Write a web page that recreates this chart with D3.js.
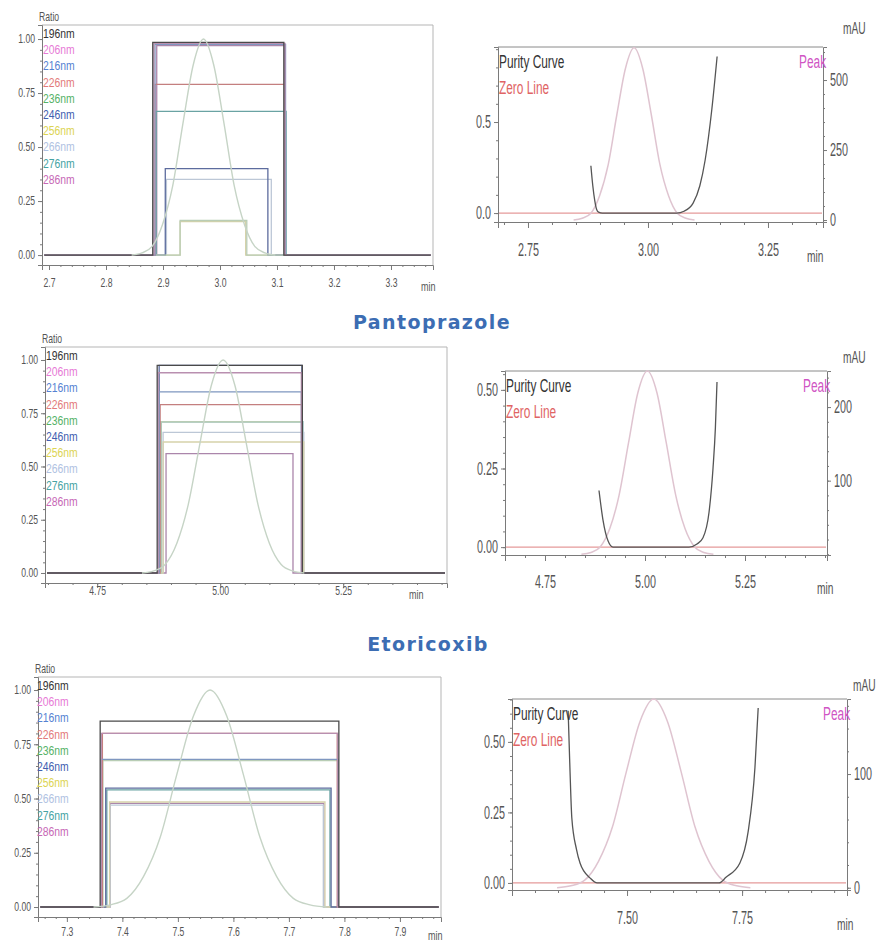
<!DOCTYPE html>
<html>
<head>
<meta charset="utf-8">
<script src="https://cdn.jsdelivr.net/npm/d3@7"></script>
<style>
  body { margin: 0; background: #fff; }
  svg { display: block; }
</style>
</head>
<body>
<div id="chart"></div>
<script>
// legend of the ratio plots (same 10 wavelengths in all three)
const wavelengths = ["196nm", "206nm", "216nm", "226nm", "236nm", "246nm", "256nm", "266nm", "276nm", "286nm"];

// ratio plateau level, start and end time (min) for each wavelength
const ratio1 = [0.985, 0.98, 0.975, 0.79, 0.16, 0.40, 0.155, 0.35, 0.665, 0.97];
const start1 = [2.882, 2.884, 2.886, 2.886, 2.930, 2.904, 2.930, 2.906, 2.888, 2.889];
const end1 = [3.112, 3.114, 3.115, 3.114, 3.047, 3.084, 3.045, 3.090, 3.116, 3.113];

const ratio2 = [0.975, 0.94, 0.85, 0.79, 0.71, 0.975, 0.615, 0.66, 0.71, 0.56];
const start2 = [4.872, 4.874, 4.876, 4.878, 4.880, 4.876, 4.884, 4.884, 4.880, 4.890];
const end2 = [5.167, 5.165, 5.165, 5.166, 5.166, 5.166, 5.170, 5.170, 5.168, 5.148];

const ratio3 = [0.857, 0.80, 0.68, 0.80, 0.675, 0.548, 0.484, 0.47, 0.54, 0.478];
const start3 = [7.360, 7.362, 7.362, 7.364, 7.365, 7.370, 7.377, 7.378, 7.372, 7.378];
const end3 = [7.790, 7.788, 7.789, 7.787, 7.788, 7.776, 7.765, 7.762, 7.774, 7.763];

// peak profile, [time, fraction of peak max]
const peak1 = [[2.845, 0], [2.863, 0.01], [2.881, 0.04], [2.899, 0.14], [2.917, 0.32], [2.935, 0.61], [2.953, 0.88], [2.971, 1],
  [2.989, 0.88], [3.007, 0.61], [3.025, 0.32], [3.043, 0.14], [3.061, 0.04], [3.079, 0.01], [3.097, 0]];
const peak2 = [[4.841, 0], [4.865, 0.01], [4.888, 0.04], [4.912, 0.14], [4.935, 0.32], [4.959, 0.61], [4.982, 0.88], [5.006, 1],
  [5.030, 0.88], [5.053, 0.61], [5.077, 0.32], [5.100, 0.14], [5.124, 0.04], [5.147, 0.01], [5.171, 0]];
const peak3 = [[7.348, 0], [7.378, 0.01], [7.408, 0.04], [7.438, 0.14], [7.468, 0.32], [7.498, 0.61], [7.528, 0.88], [7.558, 1],
  [7.588, 0.88], [7.618, 0.61], [7.648, 0.32], [7.678, 0.14], [7.708, 0.04], [7.738, 0.01], [7.768, 0]];
// peak height in mAU (right axis of purity plots)
const peakMax = [615, 249, 166];

// purity curves, [time, purity]
const purity1 = [[2.881, 0.26], [2.885, 0.15], [2.889, 0.07], [2.893, 0.02], [2.897, 0.005], [2.905, 0], [3.06, 0],
  [3.075, 0.01], [3.094, 0.055], [3.108, 0.15], [3.119, 0.29], [3.133, 0.57], [3.144, 0.86]];
const purity2 = [[4.885, 0.18], [4.895, 0.086], [4.9075, 0.02], [4.92, 0], [5.11, 0], [5.13, 0.01], [5.145, 0.03],
  [5.16, 0.11], [5.17, 0.25], [5.176, 0.38], [5.18, 0.525]];
const purity3 = [[7.372, 0.61], [7.376, 0.4], [7.38, 0.23], [7.39, 0.12], [7.398, 0.07], [7.42, 0.017], [7.435, 0],
  [7.70, 0], [7.715, 0.02], [7.745, 0.07], [7.763, 0.18], [7.778, 0.41], [7.785, 0.62]];

// tick labels
const ratioTicks = [0, 0.25, 0.5, 0.75, 1];
const xTicks1 = [2.7, 2.8, 2.9, 3.0, 3.1, 3.2, 3.3];
const xTicks2 = [4.75, 5.00, 5.25];
const xTicks3 = [7.3, 7.4, 7.5, 7.6, 7.7, 7.8, 7.9];
const pxTicks1 = [2.75, 3.00, 3.25];
const pxTicks2 = [4.75, 5.00, 5.25];
const pxTicks3 = [7.50, 7.75];
const pyTicks1 = [0, 0.5];
const pyTicks2 = [0, 0.25, 0.5];
const pyTicks3 = [0, 0.25, 0.5];
const mauTicks1 = [0, 250, 500];
const mauTicks2 = [100, 200];
const mauTicks3 = [0, 100];

const titles = ["Pantoprazole", "Etoricoxib"];

// colours
const traceColors = ["#4a4a4a", "#b98fb0", "#7f97c0", "#c47f7f", "#b9cdb5", "#5d6c9e", "#d6d2aa", "#bcc7d6", "#6aa3a3", "#ab86ab"];
const legendColors = ["#333333", "#e77ad6", "#5582d2", "#e37a7a", "#55b266", "#4260b0", "#dcd452", "#b0c2e2", "#45a3a3", "#c768b6"];
const axisColor = "#7a7a7a";
const textColor = "#555";
const narrow = "Liberation Sans, Arial, sans-serif";

const svg = d3.select("#chart")
  .append("svg")
  .attr("width", 879)
  .attr("height", 943);

svg.append("rect").attr("width", 879).attr("height", 943).attr("fill", "#fff");

// squeeze text horizontally (the scan uses a very narrow font)
function squeeze(sel, s) {
  sel.each(function () {
    const t = d3.select(this);
    const x = +t.attr("x") || 0;
    t.attr("x", x / s).attr("transform", `scale(${s},1)`);
  });
}

function stepTicks(a, b, step) {
  return d3.range(Math.ceil(a / step) * step, b, step);
}

function styleAxis(g, size) {
  g.attr("font-family", narrow).attr("font-size", size);
  g.selectAll(".domain").attr("stroke", axisColor);
  g.selectAll(".tick line").attr("stroke", axisColor);
  g.selectAll(".tick text").attr("fill", textColor);
}

// ----- left: ratio plots -----
const leftPanels = [
  { left: 42, right: 433, top: 25, bottom: 265, x0: 2.6877, x1: 3.3737, y0: -0.046, y1: 1.065,
    xticks: xTicks1, xfmt: ".1f", minor: 0.02, ratio: ratio1, start: start1, end: end1, peak: peak1,
    labelY: 291, minX: 421, legendX: 43 },
  { left: 45, right: 447, top: 347, bottom: 583, x0: 4.644, x1: 5.461, y0: -0.047, y1: 1.061,
    xticks: xTicks2, xfmt: ".2f", minor: 0.05, ratio: ratio2, start: start2, end: end2, peak: peak2,
    labelY: 599, minX: 409, legendX: 46 },
  { left: 38, right: 441, top: 677, bottom: 917, x0: 7.248, x1: 7.974, y0: -0.046, y1: 1.06,
    xticks: xTicks3, xfmt: ".1f", minor: 0.02, ratio: ratio3, start: start3, end: end3, peak: peak3,
    labelY: 940, minX: 428, legendX: 37 }
];

leftPanels.forEach(p => {
  const x = d3.scaleLinear().domain([p.x0, p.x1]).range([p.left, p.right]);
  const y = d3.scaleLinear().domain([p.y0, p.y1]).range([p.bottom, p.top]);
  const g = svg.append("g");

  // frame (top + right lighter)
  g.append("path")
    .attr("d", `M${p.left},${p.top}H${p.right}V${p.bottom}`)
    .attr("fill", "none").attr("stroke", "#b5b5b5");

  const xa = g.append("g").attr("transform", `translate(0,${p.bottom})`)
    .call(d3.axisBottom(x).tickValues(p.xticks).tickSize(5).tickFormat(d3.format(p.xfmt)));
  styleAxis(xa, 12);
  squeeze(xa.selectAll(".tick text").attr("y", p.labelY - p.bottom - 4).attr("dy", 0), 0.72);
  g.append("g").attr("transform", `translate(0,${p.bottom})`)
    .call(d3.axisBottom(x).tickValues(stepTicks(p.x0, p.x1, p.minor)).tickSize(2).tickFormat(""))
    .call(a => a.select(".domain").remove())
    .selectAll("line").attr("stroke", axisColor);

  const ya = g.append("g").attr("transform", `translate(${p.left},0)`)
    .call(d3.axisLeft(y).tickValues(ratioTicks).tickSize(4).tickFormat(d3.format(".2f")));
  styleAxis(ya, 12);
  squeeze(ya.selectAll(".tick text"), 0.72);
  g.append("g").attr("transform", `translate(${p.left},0)`)
    .call(d3.axisLeft(y).tickValues(stepTicks(0, 1.01, 0.05)).tickSize(2).tickFormat(""))
    .call(a => a.select(".domain").remove())
    .selectAll("line").attr("stroke", axisColor);

  squeeze(g.append("text").attr("x", p.left - 3).attr("y", p.top - 4)
    .attr("font-family", narrow).attr("font-size", 12).attr("fill", textColor).text("Ratio"), 0.72);
  squeeze(g.append("text").attr("x", p.minX).attr("y", p.labelY)
    .attr("font-family", narrow).attr("font-size", 12).attr("fill", textColor).text("min"), 0.75);

  // ratio traces
  const trace = d3.line().x(d => x(d[0])).y(d => y(d[1]));
  g.append("g").selectAll("path")
    .data(wavelengths.map((w, i) => ({ w, i, v: p.ratio[i], s: p.start[i], e: p.end[i] })).reverse())
    .join("path")
    .attr("d", d => trace([[p.x0 + 0.004, 0], [d.s, 0], [d.s, d.v], [d.e, d.v], [d.e, 0], [p.x1 - 0.004, 0]]))
    .attr("fill", "none")
    .attr("stroke", d => traceColors[d.i])
    .attr("stroke-width", 1.3);

  // peak profile
  g.append("path")
    .datum(p.peak)
    .attr("d", d3.line().x(d => x(d[0])).y(d => y(d[1])).curve(d3.curveMonotoneX))
    .attr("fill", "none").attr("stroke", "#c6d4c6").attr("stroke-width", 1.4);

  // legend
  const leg = g.append("g").selectAll("text")
    .data(wavelengths)
    .join("text")
    .attr("x", p.legendX)
    .attr("y", (d, i) => p.top + 13 + i * 16.2)
    .attr("font-family", narrow).attr("font-size", 13)
    .attr("fill", (d, i) => legendColors[i])
    .text(d => d);
  squeeze(leg, 0.8);
});

// ----- right: purity plots -----
const rightPanels = [
  { left: 498, right: 823, top: 47, bottom: 222, x0: 2.6875, x1: 3.3646, y0: -0.049, y1: 0.912, r0: -7, r1: 618,
    xticks: pxTicks1, yticks: pyTicks1, yfmt: ".1f", rticks: mauTicks1, yminor: 0.1, rminor: 50,
    peak: peak1, pmax: peakMax[0], purity: purity1, labelY: 262, minX: 807, mauX: 843, mauY: 34 },
  { left: 505, right: 827, top: 371, bottom: 555, x0: 4.65, x1: 5.455, y0: -0.025, y1: 0.56, r0: -1, r1: 249,
    xticks: pxTicks2, yticks: pyTicks2, yfmt: ".2f", rticks: mauTicks2, yminor: 0.05, rminor: 20,
    peak: peak2, pmax: peakMax[1], purity: purity2, labelY: 594, minX: 817, mauX: 843, mauY: 363 },
  { left: 512, right: 847, top: 699, bottom: 890, x0: 7.25, x1: 7.978, y0: -0.025, y1: 0.652, r0: -2, r1: 166,
    xticks: pxTicks3, yticks: pyTicks3, yfmt: ".2f", rticks: mauTicks3, yminor: 0.05, rminor: 20,
    peak: peak3, pmax: peakMax[2], purity: purity3, labelY: 930, minX: 837, mauX: 853, mauY: 691 }
];

rightPanels.forEach(p => {
  const x = d3.scaleLinear().domain([p.x0, p.x1]).range([p.left, p.right]);
  const y = d3.scaleLinear().domain([p.y0, p.y1]).range([p.bottom, p.top]);
  const r = d3.scaleLinear().domain([p.r0, p.r1]).range([p.bottom, p.top]);
  const g = svg.append("g");

  g.append("path")
    .attr("d", `M${p.left},${p.top}H${p.right}`)
    .attr("fill", "none").attr("stroke", "#8a8a8a");

  const xa = g.append("g").attr("transform", `translate(0,${p.bottom})`)
    .call(d3.axisBottom(x).tickValues(p.xticks).tickSize(6).tickFormat(d3.format(".2f")));
  styleAxis(xa, 18);
  squeeze(xa.selectAll(".tick text").attr("y", p.labelY - p.bottom - 6).attr("dy", 0), 0.6);
  g.append("g").attr("transform", `translate(0,${p.bottom})`)
    .call(d3.axisBottom(x).tickValues(stepTicks(p.x0, p.x1, 0.05)).tickSize(3).tickFormat(""))
    .call(a => a.select(".domain").remove())
    .selectAll("line").attr("stroke", axisColor);

  const ya = g.append("g").attr("transform", `translate(${p.left},0)`)
    .call(d3.axisLeft(y).tickValues(p.yticks).tickSize(4).tickFormat(d3.format(p.yfmt)));
  styleAxis(ya, 18);
  squeeze(ya.selectAll(".tick text"), 0.6);
  g.append("g").attr("transform", `translate(${p.left},0)`)
    .call(d3.axisLeft(y).tickValues(stepTicks(0, p.y1, p.yminor)).tickSize(2).tickFormat(""))
    .call(a => a.select(".domain").remove())
    .selectAll("line").attr("stroke", axisColor);

  const ra = g.append("g").attr("transform", `translate(${p.right},0)`)
    .call(d3.axisRight(r).tickValues(p.rticks).tickSize(4).tickFormat(d3.format("d")));
  styleAxis(ra, 18);
  squeeze(ra.selectAll(".tick text"), 0.6);
  g.append("g").attr("transform", `translate(${p.right},0)`)
    .call(d3.axisRight(r).tickValues(stepTicks(0, p.r1, p.rminor)).tickSize(2).tickFormat(""))
    .call(a => a.select(".domain").remove())
    .selectAll("line").attr("stroke", axisColor);

  squeeze(g.append("text").attr("x", p.minX).attr("y", p.labelY)
    .attr("font-family", narrow).attr("font-size", 17).attr("fill", textColor).text("min"), 0.6);
  squeeze(g.append("text").attr("x", p.mauX).attr("y", p.mauY)
    .attr("font-family", narrow).attr("font-size", 17).attr("fill", textColor).text("mAU"), 0.6);

  // zero line
  g.append("line")
    .attr("x1", p.left + 1).attr("x2", p.right - 1)
    .attr("y1", y(0)).attr("y2", y(0))
    .attr("stroke", "#e59a9a").attr("stroke-width", 1.3);

  // peak (mAU)
  g.append("path")
    .datum(p.peak)
    .attr("d", d3.line().x(d => x(d[0])).y(d => r(d[1] * p.pmax)).curve(d3.curveMonotoneX))
    .attr("fill", "none").attr("stroke", "#dfc4d0").attr("stroke-width", 1.5);

  // purity curve
  g.append("path")
    .datum(p.purity)
    .attr("d", d3.line().x(d => x(d[0])).y(d => y(d[1])).curve(d3.curveMonotoneX))
    .attr("fill", "none").attr("stroke", "#555").attr("stroke-width", 1.3);

  squeeze(g.append("text").attr("x", p.left + 1).attr("y", p.top + 21)
    .attr("font-family", narrow).attr("font-size", 18).attr("fill", "#333").text("Purity Curve"), 0.66);
  squeeze(g.append("text").attr("x", p.left + 1).attr("y", p.top + 47)
    .attr("font-family", narrow).attr("font-size", 18).attr("fill", "#e06464").text("Zero Line"), 0.66);
  squeeze(g.append("text").attr("x", p.right - 24).attr("y", p.top + 21)
    .attr("font-family", narrow).attr("font-size", 18).attr("fill", "#d055c4").text("Peak"), 0.66);
});

// compound titles between the rows
svg.selectAll("text.title")
  .data(titles)
  .join("text")
  .attr("class", "title")
  .attr("x", (d, i) => [432, 428][i])
  .attr("y", (d, i) => [329, 651][i])
  .attr("text-anchor", "middle")
  .attr("font-family", "DejaVu Sans, Verdana, sans-serif")
  .attr("font-weight", "bold")
  .attr("font-size", 19)
  .attr("letter-spacing", 1.4)
  .attr("fill", "#3c6db3")
  .text(d => d);
</script>
</body>
</html>
